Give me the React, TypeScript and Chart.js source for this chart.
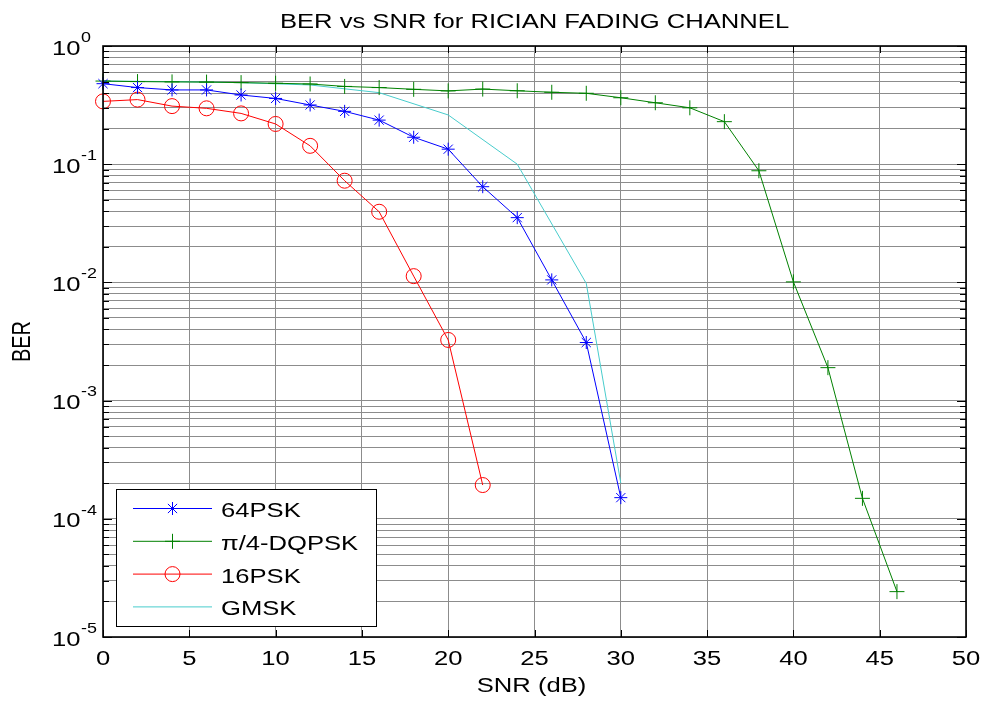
import React, { useEffect, useRef } from 'react';
import { Chart, registerables } from 'chart.js';

Chart.register(...registerables);

// ---------------- data ----------------
const snr64 = [0, 2, 4, 6, 8, 10, 12, 14, 16, 18, 20, 22, 24, 26, 28, 30];
const ber64 = [0.48, 0.445, 0.425, 0.425, 0.385, 0.36, 0.317, 0.28, 0.236, 0.169, 0.134, 0.0645, 0.0353, 0.0105, 0.0031, 0.000151];

const snrDq = [0, 2, 4, 6, 8, 10, 12, 14, 16, 18, 20, 22, 24, 26, 28, 30, 32, 34, 36, 38, 40, 42, 44, 46];
const berDq = [0.505, 0.5, 0.497, 0.495, 0.49, 0.484, 0.477, 0.455, 0.445, 0.43, 0.417, 0.432, 0.418, 0.406, 0.398, 0.365, 0.331, 0.3, 0.229, 0.088, 0.0101, 0.0019, 0.000149, 0.0000242];

const snr16 = [0, 2, 4, 6, 8, 10, 12, 14, 16, 18, 20, 22];
const ber16 = [0.34, 0.352, 0.31, 0.297, 0.269, 0.219, 0.143, 0.0725, 0.0396, 0.0113, 0.00326, 0.000193];

const snrGm = [0, 4, 8, 12, 16, 20, 24, 28, 30];
const berGm = [0.505, 0.5, 0.49, 0.468, 0.403, 0.261, 0.1, 0.0098, 0.0002];

const seriesNames = ['64PSK', 'π/4-DQPSK', '16PSK', 'GMSK'];
const seriesColors = ['#0000ff', '#008000', '#ff0000', '#48cccc'];

const xTicks = [0, 5, 10, 15, 20, 25, 30, 35, 40, 45, 50];
const xTickLabels = ['0', '5', '10', '15', '20', '25', '30', '35', '40', '45', '50'];
const yDecades = [1, 0.1, 0.01, 0.001, 0.0001, 0.00001];
const yExponents = ['0', '-1', '-2', '-3', '-4', '-5'];
const yMantissas = [1, 2, 3, 4, 5, 6, 7, 8, 9];

const titleText = 'BER vs SNR for RICIAN FADING CHANNEL';
const xTitle = 'SNR (dB)';
const yTitle = 'BER';

const FONT = '"Liberation Sans", Arial, Helvetica, sans-serif';
const GRID = '#8c8c8c';
const STRETCH = 1.28; // the reference's text is horizontally wide

// all grid values on the log axis
const yGridValues: number[] = [];
for (let d = 1; d < yDecades.length; d++) {
  for (const m of yMantissas) yGridValues.push(m * yDecades[d]);
}
yGridValues.push(1);

function wideText(
  ctx: CanvasRenderingContext2D,
  text: string,
  x: number,
  y: number,
  size: number,
  align: CanvasTextAlign,
  rotate = false,
) {
  ctx.save();
  ctx.font = `${size}px ${FONT}`;
  ctx.textAlign = align;
  ctx.textBaseline = 'middle';
  ctx.fillStyle = '#000';
  ctx.translate(x, y);
  ctx.scale(STRETCH, 1);
  if (rotate) {
    ctx.scale(1 / STRETCH, 1);
    ctx.scale(STRETCH, 1);
    ctx.rotate(-Math.PI / 2);
  }
  ctx.fillText(text, 0, 0);
  ctx.restore();
}

function drawMarker(ctx: CanvasRenderingContext2D, style: string, x: number, y: number, r: number, color: string) {
  ctx.save();
  ctx.strokeStyle = color;
  ctx.lineWidth = 1;
  ctx.beginPath();
  if (style === 'circle') {
    ctx.arc(x, y, r, 0, Math.PI * 2);
  } else if (style === 'cross') {
    ctx.moveTo(x - r, y); ctx.lineTo(x + r, y);
    ctx.moveTo(x, y - r); ctx.lineTo(x, y + r);
  } else if (style === 'star') {
    ctx.moveTo(x - r, y); ctx.lineTo(x + r, y);
    ctx.moveTo(x, y - r); ctx.lineTo(x, y + r);
    const d = r * Math.SQRT1_2;
    ctx.moveTo(x - d, y - d); ctx.lineTo(x + d, y + d);
    ctx.moveTo(x - d, y + d); ctx.lineTo(x + d, y - d);
  }
  ctx.stroke();
  ctx.restore();
}

const markerStyles = ['star', 'cross', 'circle', ''];
const markerRadii = [6.5, 7.5, 7.5, 0];

const decorPlugin = {
  id: 'matlabDecor',
  afterDatasetsDraw(chart: any) {
    const ctx: CanvasRenderingContext2D = chart.ctx;
    const { left, right, top, bottom } = chart.chartArea;
    const xs = chart.scales.x;
    const ys = chart.scales.y;
    ctx.save();
    ctx.strokeStyle = '#000';
    ctx.lineWidth = 1;
    // x tick marks (inside, top and bottom)
    for (const t of xTicks) {
      const px = Math.round(xs.getPixelForValue(t)) + 0.5;
      ctx.beginPath();
      ctx.moveTo(px, bottom); ctx.lineTo(px, bottom - 7);
      ctx.moveTo(px, top); ctx.lineTo(px, top + 7);
      ctx.stroke();
    }
    // y tick marks (inside, left and right)
    for (const v of yGridValues) {
      const py = Math.round(ys.getPixelForValue(v)) + 0.5;
      const isMajor = yDecades.some((d) => Math.abs(d - v) / d < 1e-9);
      const len = isMajor ? 9 : 6;
      ctx.beginPath();
      ctx.moveTo(left, py); ctx.lineTo(left + len, py);
      ctx.moveTo(right, py); ctx.lineTo(right - len, py);
      ctx.stroke();
    }
    // box
    ctx.lineWidth = 1.6;
    ctx.strokeRect(left, top, right - left, bottom - top);
    ctx.restore();
  },
  afterDraw(chart: any) {
    const ctx: CanvasRenderingContext2D = chart.ctx;
    const { left, right, top, bottom } = chart.chartArea;
    const xs = chart.scales.x;
    const ys = chart.scales.y;
    const cx = (left + right) / 2;
    // title
    wideText(ctx, titleText, cx, 22.5, 20, 'center');
    // x tick labels
    xTicks.forEach((t, i) => {
      wideText(ctx, xTickLabels[i], xs.getPixelForValue(t), 659, 20, 'center');
    });
    // x title
    wideText(ctx, xTitle, cx - 3, 686, 20, 'center');
    // y title (rotated; stretch applies in page x)
    ctx.save();
    ctx.font = `20px ${FONT}`;
    ctx.textAlign = 'center';
    ctx.textBaseline = 'middle';
    ctx.fillStyle = '#000';
    ctx.translate(23, (top + bottom) / 2);
    ctx.scale(STRETCH, 1);
    ctx.rotate(-Math.PI / 2);
    ctx.fillText(yTitle, 0, 0);
    ctx.restore();
    // y tick labels 10^k
    yDecades.forEach((v, i) => {
      const py = ys.getPixelForValue(v);
      wideText(ctx, '10', 52, py + 3, 20, 'left');
      wideText(ctx, yExponents[i], 81, py - 8, 14, 'left');
    });
    // legend
    ctx.save();
    const lx = 116.5, ly = 489.5, lw = 260, lh = 137;
    ctx.fillStyle = '#fff';
    ctx.fillRect(lx, ly, lw, lh);
    ctx.strokeStyle = '#000';
    ctx.lineWidth = 1;
    ctx.strokeRect(lx, ly, lw, lh);
    seriesNames.forEach((name, i) => {
      const ry = 508.5 + i * 32.8;
      ctx.strokeStyle = seriesColors[i];
      ctx.lineWidth = 1;
      ctx.beginPath();
      ctx.moveTo(133, ry); ctx.lineTo(212, ry);
      ctx.stroke();
      if (markerStyles[i]) drawMarker(ctx, markerStyles[i], 172.5, ry, markerRadii[i], seriesColors[i]);
      wideText(ctx, name, 221, ry + 3, 20, 'left');
    });
    ctx.restore();
  },
};

function toPoints(xs: number[], ys: number[]) {
  return xs.map((x, i) => ({ x, y: ys[i] }));
}

export default function App() {
  const ref = useRef<HTMLCanvasElement>(null);
  useEffect(() => {
    const canvas = ref.current;
    if (!canvas) return;
    const series = [
      toPoints(snr64, ber64),
      toPoints(snrDq, berDq),
      toPoints(snr16, ber16),
      toPoints(snrGm, berGm),
    ];
    const chart = new Chart(canvas, {
      type: 'line',
      data: {
        datasets: series.map((d, i) => ({
          label: seriesNames[i],
          data: d,
          borderColor: seriesColors[i],
          borderWidth: 1,
          backgroundColor: 'transparent',
          pointStyle: (markerStyles[i] || 'circle') as any,
          pointRadius: markerRadii[i],
          pointHoverRadius: markerRadii[i],
          pointBorderColor: seriesColors[i],
          pointBackgroundColor: 'transparent',
          pointBorderWidth: 1,
          tension: 0,
          fill: false,
          clip: false as any,
        })),
      },
      options: {
        responsive: false,
        animation: false,
        events: [],
        layout: { padding: { top: 46, right: 17, left: 0, bottom: 0 } },
        plugins: {
          legend: { display: false },
          title: { display: false },
          tooltip: { enabled: false },
        },
        scales: {
          x: {
            type: 'linear',
            min: 0,
            max: 50,
            afterBuildTicks: (scale: any) => {
              scale.ticks = xTicks.map((v) => ({ value: v }));
            },
            afterFit: (scale: any) => {
              scale.height = 64;
            },
            ticks: { display: false },
            grid: { color: GRID, lineWidth: 1, drawTicks: false },
            border: { display: false },
          },
          y: {
            type: 'logarithmic',
            min: 0.00001,
            max: 1,
            afterBuildTicks: (scale: any) => {
              scale.ticks = yGridValues.map((v) => ({ value: v }));
            },
            afterFit: (scale: any) => {
              scale.width = 103;
            },
            ticks: { display: false },
            grid: { color: GRID, lineWidth: 1, drawTicks: false },
            border: { display: false },
          },
        },
      },
      plugins: [decorPlugin],
    } as any);
    return () => chart.destroy();
  }, []);
  return (
    <div style={{ position: 'fixed', left: 0, top: 0, width: 983, height: 701, background: '#fff' }}>
      <canvas ref={ref} width={983} height={701} style={{ display: 'block', width: 983, height: 701 }} />
    </div>
  );
}
